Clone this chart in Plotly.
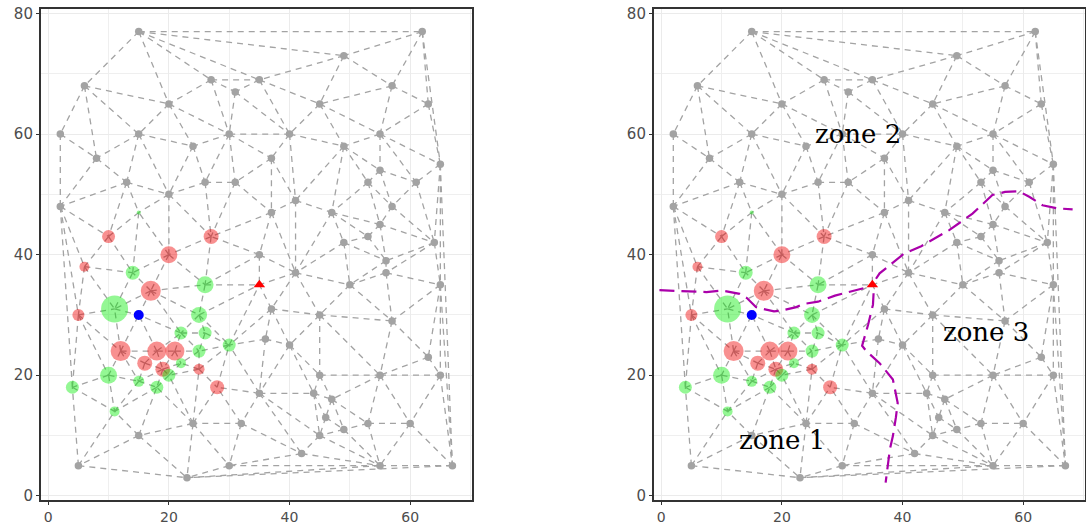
import plotly.graph_objects as go

# ---- site coordinates ---------------------------------------------------
# ordinary (grey) sites
site_x = [15, 62, 49, 6, 27, 35, 57, 31, 20, 45, 63, 2, 15, 30, 40, 55, 24, 49, 8, 37,
          65, 55, 13, 26, 31, 53, 61, 20, 41, 2, 57, 37, 47, 55, 53, 49, 64, 35, 56, 41,
          56, 50, 65, 37, 45, 57, 36, 40, 63, 45, 55, 65, 35, 44, 47, 46, 32, 24, 53, 60,
          49, 15, 45, 42, 5, 30, 55, 67, 23]
site_y = [77, 77, 73, 68, 69, 69, 68, 67, 65, 65, 65, 60, 60, 60, 60, 60, 58, 58, 56, 56,
          55, 54, 52, 52, 52, 52, 52, 50, 49, 48, 48, 47, 47, 45, 43, 42, 42, 40, 39, 37,
          37, 35, 35, 31, 30, 29, 26, 25, 23, 20, 20, 20, 17, 17, 16, 13, 12, 12, 12, 12,
          11, 10, 10, 7, 5, 5, 5, 5, 3]

# high-value sites (red) with their score
high_x = [10, 27, 20, 6, 17, 5, 12, 18, 21, 16, 19, 25, 28]
high_y = [43, 43, 40, 38, 34, 30, 24, 24, 24, 22, 21, 21, 18]
high_score = [1.3, 1.5, 1.7, 1.0, 2.0, 1.2, 2.0, 1.9, 1.9, 1.5, 1.5, 1.1, 1.4]

# low-value sites (green) with their score
low_x = [15, 14, 26, 11, 25, 22, 26, 30, 25, 22, 10, 20, 4, 15, 18, 11]
low_y = [47, 37, 35, 31, 30, 27, 27, 25, 24, 22, 20, 20, 18, 19, 18, 14]
low_score = [0.4, 1.4, 1.7, 2.7, 1.6, 1.3, 1.3, 1.3, 1.3, 1.0, 1.7, 1.3, 1.3, 1.1, 1.3, 1.0]

# reference site (blue) and source site (triangle)
ref_x, ref_y = [15], [30]
src_x, src_y = [35], [35]

# ---- zone boundaries ----------------------------------------------------
bound_12_x = [-0.3, 7.5, 10, 13, 14.2, 15.7, 16.4, 18.7, 19.8, 22.4, 23.5, 26, 28.8, 34.2]
bound_12_y = [34.1, 33.8, 34.05, 33.5, 32.8, 31.3, 31.1, 30.6, 30.7, 31.3, 31.8, 32.2, 33.2, 34.6]
bound_23_x = [35.6, 36.2, 40.3, 43.1, 47.8, 51.6, 54.9, 57, 59.3, 61, 63.2, 65.5, 68.2]
bound_23_y = [36.0, 36.9, 40.2, 41.4, 44.1, 46.8, 49.9, 50.4, 50.5, 49.6, 48.2, 47.7, 47.5]
bound_13_x = [35.2, 35.1, 34.3, 33.3, 34, 36.2, 38.4, 39.2, 38.9, 38.4, 37.9, 37.2]
bound_13_y = [33.6, 31.7, 28.4, 24.9, 24, 22, 19.3, 15.4, 13, 9.9, 7.7, 2.2]

zone_labels = ["zone 1", "zone 2", "zone 3"]
zone_x = [20, 32.6, 53.9]
zone_y = [9.2, 60.0, 27.2]


def delaunay_edges(xs, ys):
    """Bowyer-Watson triangulation; returns the set of unique edges."""
    n = len(xs)
    pts = [(float(a), float(b)) for a, b in zip(xs, ys)]
    span = max(max(xs) - min(xs), max(ys) - min(ys))
    cx, cy = (max(xs) + min(xs)) / 2, (max(ys) + min(ys)) / 2
    d = span * 200
    pts += [(cx - d, cy - d), (cx + d, cy - d), (cx, cy + d)]

    def circle(t):
        (ax, ay), (bx, by), (qx, qy) = pts[t[0]], pts[t[1]], pts[t[2]]
        den = 2 * (ax * (by - qy) + bx * (qy - ay) + qx * (ay - by))
        a2, b2, q2 = ax * ax + ay * ay, bx * bx + by * by, qx * qx + qy * qy
        ux = (a2 * (by - qy) + b2 * (qy - ay) + q2 * (ay - by)) / den
        uy = (a2 * (qx - bx) + b2 * (ax - qx) + q2 * (bx - ax)) / den
        return ux, uy, (ax - ux) ** 2 + (ay - uy) ** 2

    tris = [(n, n + 1, n + 2)]
    circ = {tris[0]: circle(tris[0])}
    for i in range(n):
        px, py = pts[i]
        bad = []
        for t in tris:
            ux, uy, r2 = circ[t]
            if (px - ux) ** 2 + (py - uy) ** 2 < r2 * (1 - 1e-12):
                bad.append(t)
        count = {}
        for t in bad:
            for e in ((t[0], t[1]), (t[1], t[2]), (t[2], t[0])):
                k = tuple(sorted(e))
                count[k] = count.get(k, 0) + 1
        badset = set(bad)
        tris = [t for t in tris if t not in badset]
        for (a, b), c in count.items():
            if c == 1:
                nt = (a, b, i)
                tris.append(nt)
                circ[nt] = circle(nt)
    edges = set()
    for t in tris:
        if max(t) >= n:
            continue
        for e in ((t[0], t[1]), (t[1], t[2]), (t[2], t[0])):
            edges.add(tuple(sorted(e)))
    return sorted(edges)


all_x = site_x + high_x + low_x + ref_x + src_x
all_y = site_y + high_y + low_y + ref_y + src_y
edges = delaunay_edges(all_x, all_y)

seg_x, seg_y = [], []
for a, b in edges:
    seg_x += [all_x[a], all_x[b], None]
    seg_y += [all_y[a], all_y[b], None]

GREY = "#A3A3A3"
fig = go.Figure()

for k in (1, 2):
    xa = "x" if k == 1 else "x2"
    ya = "y" if k == 1 else "y2"
    fig.add_trace(go.Scatter(x=seg_x, y=seg_y, mode="lines", xaxis=xa, yaxis=ya,
                             line=dict(color=GREY, width=1.3, dash="6px,5px"),
                             hoverinfo="skip", showlegend=False))
    fig.add_trace(go.Scatter(x=site_x, y=site_y, mode="markers", xaxis=xa, yaxis=ya,
                             marker=dict(color=GREY, size=7.5, line=dict(width=0)),
                             showlegend=False))
    fig.add_trace(go.Scatter(x=high_x, y=high_y, mode="markers", xaxis=xa, yaxis=ya,
                             marker=dict(color="rgba(240,0,0,0.62)", size=high_score,
                                         sizemode="diameter", sizeref=0.1,
                                         line=dict(width=0)),
                             showlegend=False))
    fig.add_trace(go.Scatter(x=low_x, y=low_y, mode="markers", xaxis=xa, yaxis=ya,
                             marker=dict(color="rgba(0,235,0,0.6)", size=low_score,
                                         sizemode="diameter", sizeref=0.1,
                                         line=dict(width=0)),
                             showlegend=False))
    fig.add_trace(go.Scatter(x=ref_x, y=ref_y, mode="markers", xaxis=xa, yaxis=ya,
                             marker=dict(color="#0000FF", size=10, line=dict(width=0)),
                             showlegend=False))
    fig.add_trace(go.Scatter(x=src_x, y=src_y, mode="markers", xaxis=xa, yaxis=ya,
                             marker=dict(color="#FF0000", size=10, symbol="triangle-up",
                                         line=dict(width=0)),
                             showlegend=False))

for bx, by in ((bound_12_x, bound_12_y), (bound_23_x, bound_23_y), (bound_13_x, bound_13_y)):
    fig.add_trace(go.Scatter(x=bx, y=by, mode="lines", xaxis="x2", yaxis="y2",
                             line=dict(color="#AA00AA", width=2.2, dash="15px,7px"),
                             hoverinfo="skip", showlegend=False))

for lab, lx, ly in zip(zone_labels, zone_x, zone_y):
    fig.add_annotation(x=lx, y=ly, xref="x2", yref="y2", text=lab, showarrow=False,
                       font=dict(family="DejaVu Serif", size=26, color="black"))

xmin, xmax = min(all_x), max(all_x)
ymin, ymax = min(all_y), max(all_y)
xr = [xmin - 0.05 * (xmax - xmin), xmax + 0.05 * (xmax - xmin)]
yr = [ymin - 0.05 * (ymax - ymin), ymax + 0.05 * (ymax - ymin)]

W, H = 1086, 526
axis_common = dict(
    showline=True, mirror=True, linecolor="#333333", linewidth=1.5,
    ticks="outside", ticklen=3, tickwidth=1, tickcolor="#333333",
    showgrid=True, gridcolor="#EBEBEB", gridwidth=1.2,
    minor=dict(dtick=10, tick0=0, showgrid=True, gridcolor="#EFEFEF", gridwidth=0.7),
    zeroline=False, tick0=0, dtick=20, automargin=False,
)
x_font = dict(family="DejaVu Sans", size=14, color="#4D4D4D")
y_font = dict(family="DejaVu Sans", size=15, color="#4D4D4D")

yd = [1 - 500 / H, 1 - 9.3 / H]
fig.update_layout(
    width=W, height=H,
    margin=dict(l=0, r=0, t=0, b=0),
    paper_bgcolor="white", plot_bgcolor="white",
    xaxis=dict(domain=[40.7 / W, 472 / W], range=xr, anchor="y", tickfont=x_font, **axis_common),
    yaxis=dict(domain=yd, range=yr, anchor="x", tickfont=y_font, **axis_common),
    xaxis2=dict(domain=[653.7 / W, 1085 / W], range=xr, anchor="y2", tickfont=x_font, **axis_common),
    yaxis2=dict(domain=yd, range=yr, anchor="x2", tickfont=y_font, **axis_common),
)

fig.write_html("out.html")
